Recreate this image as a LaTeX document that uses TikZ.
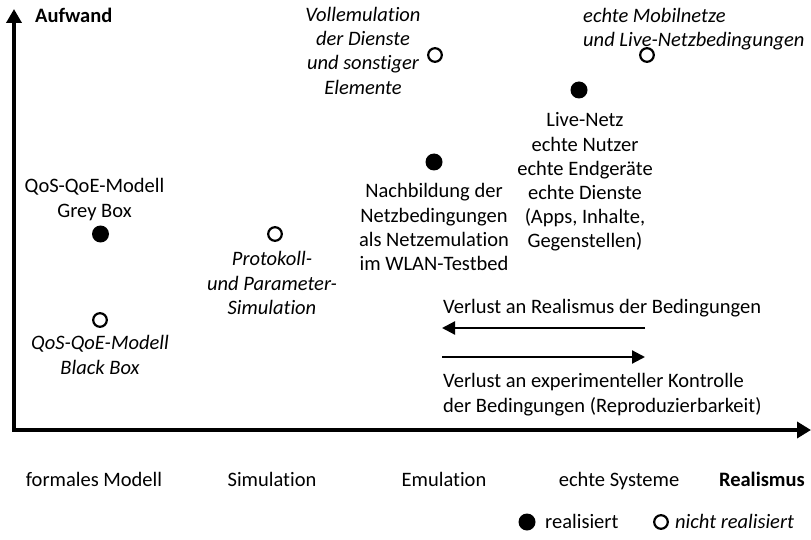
\documentclass[tikz,border=0pt]{standalone}
\usepackage{fontspec}
\setmainfont{Carlito}[Ligatures=NoCommon]
\usetikzlibrary{arrows.meta}
\begin{document}
\begin{tikzpicture}[x=1pt,y=-1pt,
  lbl/.style={inner sep=0pt, font=\fontsize{20.5}{24.2}\selectfont, align=center},
  done/.style={circle, fill=black, inner sep=0pt, minimum size=17pt},
  todo/.style={circle, draw=black, line width=2.2pt, fill=white, inner sep=0pt, minimum size=13.6pt},
  axis/.style={line width=3.5pt, miter limit=10,
    {Triangle[length=14pt,width=15pt]}-{Triangle[length=14pt,width=16pt]}},
  trend/.style={line width=2.2pt, -{Triangle[length=13pt,width=13pt]}}]
\useasboundingbox (0,0) rectangle (811,540);

% axes
\coordinate (ytip) at (14,9);
\coordinate (origin) at (14,430);
\coordinate (xtip) at (811,430);
\draw[axis] (ytip) -- (origin) -- (xtip);
\node[lbl, anchor=base west] (aufwand) at (35,23) {\bfseries Aufwand};
\node[lbl, anchor=base east] (realismus) at (805,486) {\bfseries Realismus};

% categories along the realism axis
\node[lbl, anchor=base] (formal) at (94,486) {formales Modell};
\node[lbl, anchor=base] (simul) at (272,486) {Simulation};
\node[lbl, anchor=base] (emul) at (444,486) {Emulation};
\node[lbl, anchor=base] (echt) at (619,486) {echte Systeme};

% approaches
\node[done] (greybox) at (100.5,234) {};
\node[lbl, anchor=north] (greylbl) at (94.5,178.5) {QoS-QoE-Modell\\Grey Box};

\node[todo] (blackbox) at (100,320) {};
\node[lbl, anchor=north] (blacklbl) at (100,335.5) {\itshape QoS-QoE-Modell\\\itshape Black Box};

\node[todo] (protosim) at (275,234) {};
\node[lbl, anchor=north] (protolbl) at (272,251.5) {\itshape Protokoll-\\\itshape und Parameter-\\\itshape Simulation};

\node[done] (netzemu) at (434,162) {};
\node[lbl, anchor=north] (netzlbl) at (434,183.5) {Nachbildung der\\Netzbedingungen\\als Netzemulation\\im WLAN-Testbed};

\node[todo] (vollemu) at (435,55) {};
\node[lbl, anchor=north] (volllbl) at (363,7) {\itshape Vollemulation\\\itshape der Dienste\\\itshape und sonstiger\\\itshape Elemente};

\node[done] (livenetz) at (579,90) {};
\node[lbl, anchor=north] (livelbl) at (585,112.5) {Live-Netz\\echte Nutzer\\echte Endger\"ate\\echte Dienste\\(Apps, Inhalte,\\Gegenstellen)};

\node[todo] (mobil) at (647,55) {};
\node[lbl, anchor=north west, align=left] (mobillbl) at (583,8) {\itshape echte Mobilnetze\\\itshape und Live-Netzbedingungen};

% trade-off arrows
\coordinate (realR) at (645,328);
\coordinate (realL) at (442,328);
\coordinate (ctrlL) at (442,357);
\coordinate (ctrlR) at (645,357);
\draw[trend] (realR) -- (realL);
\draw[trend] (ctrlL) -- (ctrlR);
\node[lbl, anchor=base west] (realtxt) at (443,313.5) {Verlust an Realismus der Bedingungen};
\node[lbl, anchor=north west, align=left] (ctrltxt) at (443,373.5) {Verlust an experimenteller Kontrolle\\der Bedingungen (Reproduzierbarkeit)};

% legend
\node[done] (legdone) at (527,522) {};
\node[lbl, anchor=base west] (legdonetxt) at (545,528.5) {realisiert};
\node[todo] (legtodo) at (661,522) {};
\node[lbl, anchor=base west] (legtodotxt) at (675,528.5) {\itshape nicht realisiert};
\end{tikzpicture}
\end{document}
